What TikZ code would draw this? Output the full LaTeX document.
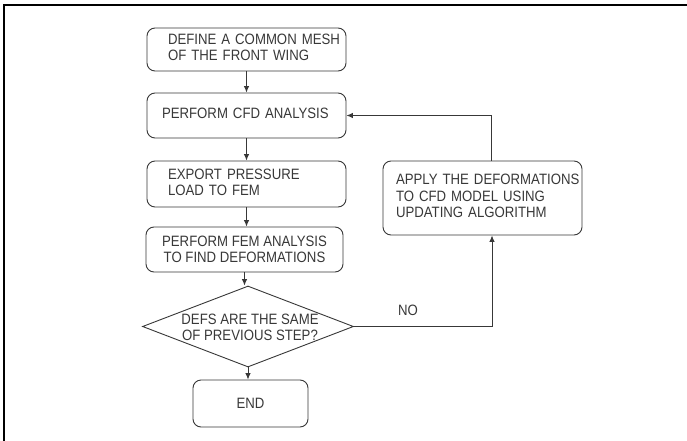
\documentclass[tikz,border=0pt]{standalone}
\usepackage{fontspec}
\newfontfamily\diafont[FakeStretch=0.88]{Liberation Sans}
\usetikzlibrary{arrows.meta,shapes.geometric}
\definecolor{ink}{gray}{0.22}
\tikzset{
  box/.style={draw=ink, line width=0.9pt, rounded corners=8pt, inner xsep=0pt, inner ysep=0pt,
    font=\diafont\fontsize{15}{16.3}\selectfont, text=ink},
  txt/.style={font=\diafont\fontsize{15}{16.3}\selectfont, text=ink, inner sep=0pt},
  arr/.style={draw=ink, line width=0.9pt, -{Latex[length=6.5pt,width=5.5pt]}},
}
\newcommand{\lines}[1]{\begin{tabular}{@{}l@{}}#1\end{tabular}}
\begin{document}
\begin{tikzpicture}[x=1pt,y=-1pt]
\useasboundingbox (0,0) rectangle (687,441);
\fill[white] (0,0) rectangle (687,441);
% frame (cropped)
\draw[line width=2pt, black] (3.5,441) -- (3.5,5) -- (687,5);

\node[box, minimum width=199pt, minimum height=43pt, text width=157pt] (b1) at (246.5,49.5)
  {\lines{DEFINE A COMMON MESH\\OF THE FRONT WING}};
\node[box, minimum width=199pt, minimum height=45pt, text width=169pt] (b2) at (246.5,115.5)
  {\lines{PERFORM CFD ANALYSIS}};
\node[box, minimum width=199pt, minimum height=46pt, text width=157pt] (b3) at (246.5,184)
  {\lines{EXPORT PRESSURE\\LOAD TO FEM}};
\node[box, minimum width=197pt, minimum height=45pt, align=center] (b4) at (244.5,249.5)
  {PERFORM FEM ANALYSIS\\TO FIND DEFORMATIONS};
\node[draw=ink, line width=0.9pt, diamond, minimum width=211pt, minimum height=81pt, inner sep=0pt] (dia) at (248,326.5) {};
\node[txt, align=center] (diat) at (250,327) {DEFS ARE THE SAME\\OF PREVIOUS STEP?};
\node[box, minimum width=115pt, minimum height=47pt] (end) at (250.5,403.5) {END};
\node[box, minimum width=199pt, minimum height=74pt, text width=173pt] (rb) at (482.5,198)
  {\lines{APPLY THE DEFORMATIONS\\TO CFD MODEL USING\\UPDATING ALGORITHM}};
\node[txt] (no) at (408,310) {NO};

\draw[arr] (b1.south) -- (b2.north);
\draw[arr] (b2.south) -- (b3.north);
\draw[arr] (b3.south) -- (b3.south |- b4.north);
\draw[arr] (b4.south) -- (b4.south |- dia.north);
\draw[arr] (dia.south) -- (dia.south |- end.north);
\draw[arr] (dia.east) -| ([xshift=9.5pt]rb.south);
\draw[arr] ([xshift=8.5pt]rb.north) |- (b2.east);
\end{tikzpicture}
\end{document}
